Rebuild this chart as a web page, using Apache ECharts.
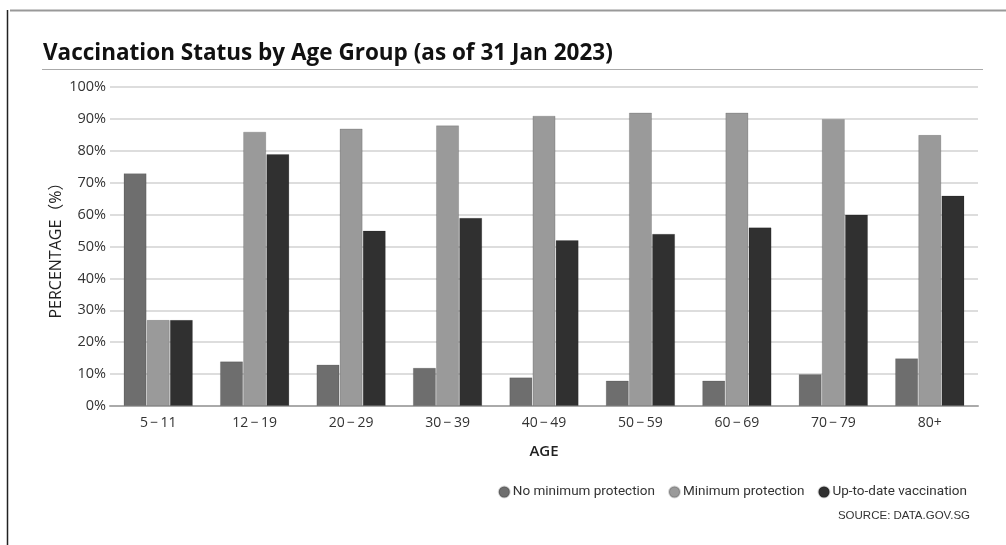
<!DOCTYPE html>
<html>
<head>
<meta charset="utf-8">
<script src="https://cdn.jsdelivr.net/npm/echarts@6/dist/echarts.min.js"></script>
<style>
  html, body { margin: 0; padding: 0; background: #fff; }
  #main { width: 1006px; height: 545px; }
</style>
</head>
<body>
<div id="main"></div>
<script>
const ageGroups = ['5\u2009\u2212\u200911', '12\u2009\u2212\u200919', '20\u2009\u2212\u200929', '30\u2009\u2212\u200939', '40\u2009\u2212\u200949', '50\u2009\u2212\u200959', '60\u2009\u2212\u200969', '70\u2009\u2212\u200979', '80+'];
const noMinimum = [73, 14, 13, 12, 9, 8, 8, 10, 15];
const minimum = [27, 86, 87, 88, 91, 92, 92, 90, 85];
const upToDate = [27, 79, 55, 59, 52, 54, 56, 60, 66];
const seriesNames = ['No minimum protection', 'Minimum protection', 'Up-to-date vaccination'];
const colors = ['#6e6e6e', '#9a9a9a', '#303030'];

const myChart = echarts.init(document.getElementById('main'));

function bar(name, data, color) {
  return {
    name: name,
    type: 'bar',
    data: data,
    barGap: '0%',
    barCategoryGap: '28%',
    itemStyle: { color: color, borderColor: 'rgba(0,0,0,0.15)', borderWidth: 1 }
  };
}

const option = {
  animation: false,
  color: colors,
  title: {
    text: 'Vaccination Status by Age Group (as of 31 Jan 2023)',
    left: 38,
    top: 37,
    textStyle: { fontFamily: 'Open Sans', fontWeight: 'bold', fontSize: 22.5, color: '#111' }
  },
  graphic: [
    { type: 'line', shape: { x1: 10, y1: 10.5, x2: 1006, y2: 10.5 }, style: { stroke: '#999', lineWidth: 2 } },
    { type: 'line', shape: { x1: 7.5, y1: 10, x2: 7.5, y2: 545 }, style: { stroke: '#222', lineWidth: 1.5 } },
    { type: 'line', shape: { x1: 42, y1: 69.5, x2: 983, y2: 69.5 }, style: { stroke: '#aaa', lineWidth: 1 } },
    {
      type: 'text', right: 36, top: 510,
      style: { text: 'SOURCE: DATA.GOV.SG', font: '11.5px "Liberation Sans"', fill: '#333' }
    }
  ],
  legend: {
    right: 34,
    top: 480,
    icon: 'circle',
    itemWidth: 11,
    itemHeight: 11,
    itemGap: 13,
    textStyle: { fontFamily: 'Roboto', fontSize: 13.5, color: '#333', padding: [0, 0, 0, -2] },
    data: seriesNames
  },
  grid: { left: 110, right: 28, top: 87, bottom: 139 },
  xAxis: {
    type: 'category',
    data: ageGroups,
    name: 'AGE',
    nameLocation: 'middle',
    nameGap: 38,
    nameTextStyle: { fontFamily: 'Open Sans', fontSize: 15, color: '#222', fontWeight: 600 },
    axisLine: { lineStyle: { color: '#aaa', width: 2 } },
    axisTick: { alignWithLabel: true, length: 5, lineStyle: { color: '#aaa' } },
    axisLabel: { fontFamily: 'Open Sans', fontSize: 14, color: '#333', margin: 10 }
  },
  yAxis: {
    type: 'value',
    min: 0,
    max: 100,
    interval: 10,
    name: 'PERCENTAGE\uff08%\uff09',
    nameLocation: 'middle',
    nameGap: 46,
    nameMoveOverlap: false,
    nameTextStyle: { fontFamily: '"Open Sans", "Noto Sans CJK SC"', fontSize: 16, color: '#222' },
    axisLabel: { formatter: '{value}%', fontFamily: 'Open Sans', fontSize: 14.5, color: '#333', margin: 4 },
    splitLine: { lineStyle: { color: '#ddd', width: 2 } },
    axisLine: { show: false },
    axisTick: { show: false }
  },
  series: [
    bar(seriesNames[0], noMinimum, colors[0]),
    bar(seriesNames[1], minimum, colors[1]),
    bar(seriesNames[2], upToDate, colors[2])
  ]
};

myChart.setOption(option);
</script>
</body>
</html>
